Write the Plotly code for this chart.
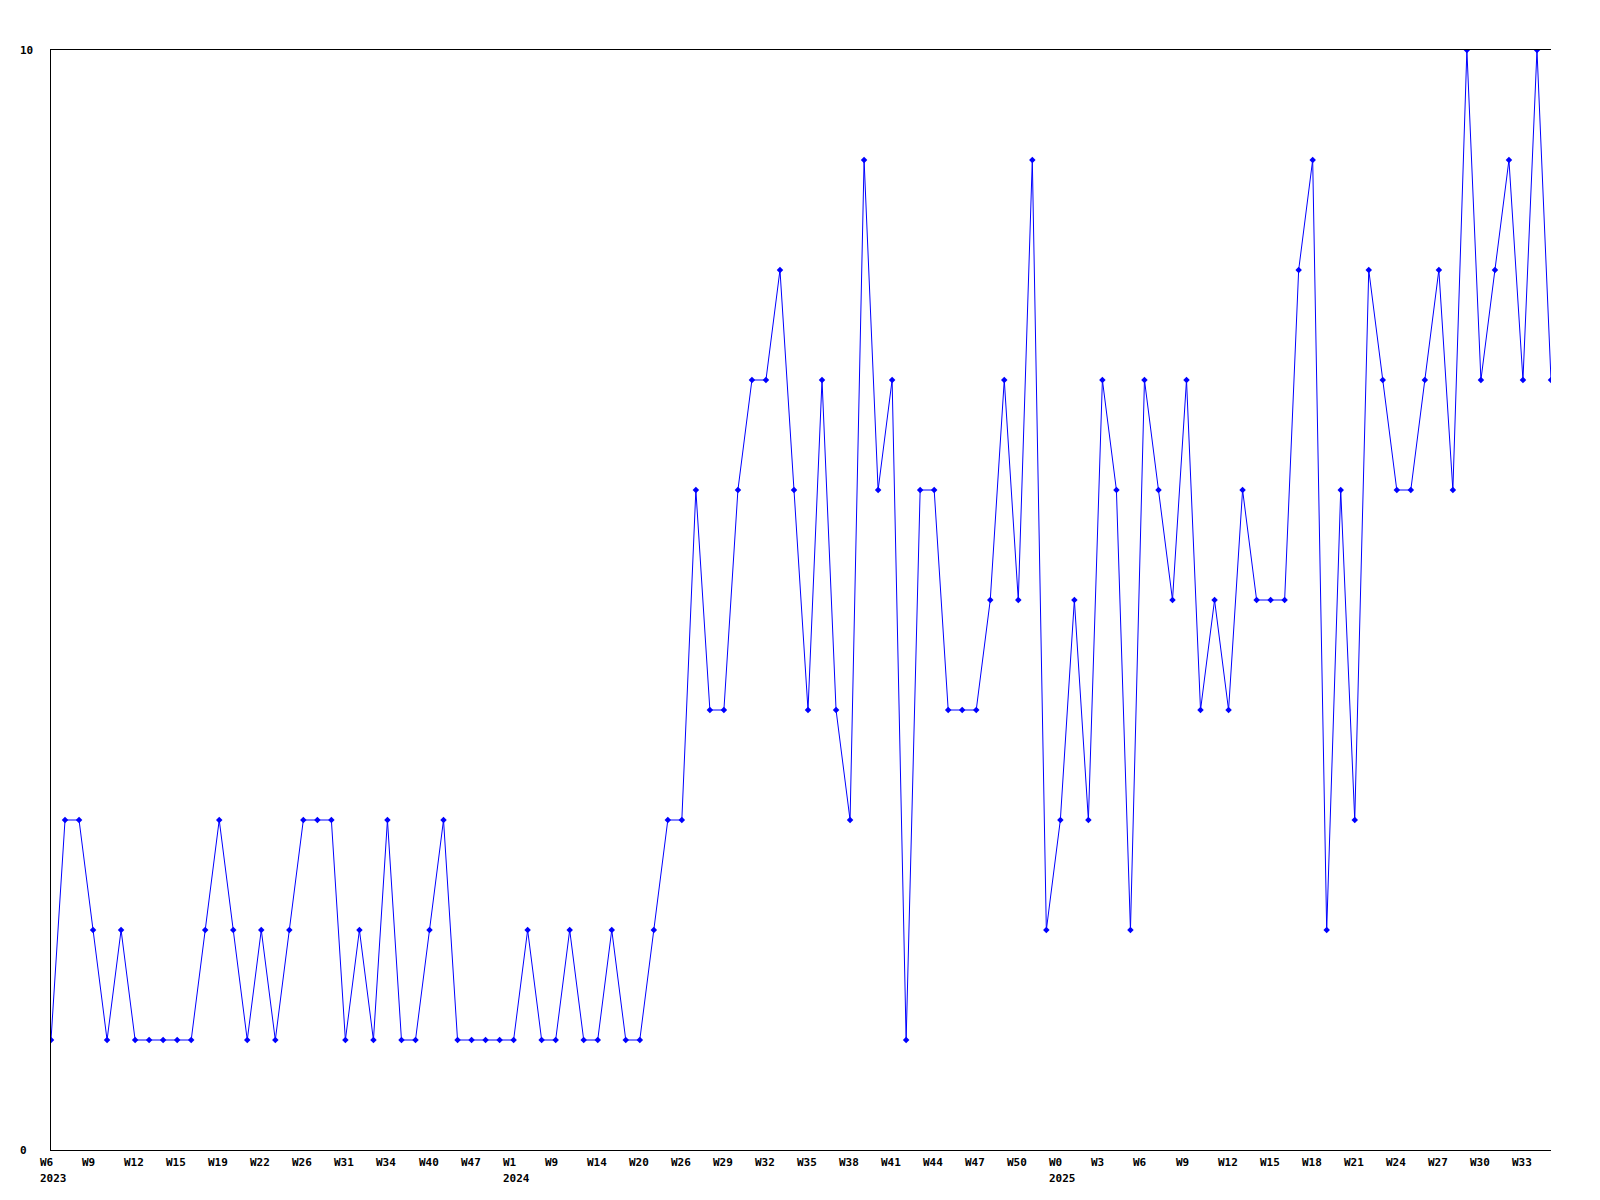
import plotly.graph_objects as go

values = [1, 3, 3, 2, 1, 2, 1, 1, 1, 1, 1, 2, 3, 2, 1, 2, 1, 2, 3, 3,
          3, 1, 2, 1, 3, 1, 1, 2, 3, 1, 1, 1, 1, 1, 2, 1, 1, 2, 1, 1,
          2, 1, 1, 2, 3, 3, 6, 4, 4, 6, 7, 7, 8, 6, 4, 7, 4, 3, 9, 6,
          7, 1, 6, 6, 4, 4, 4, 5, 7, 5, 9, 2, 3, 5, 3, 7, 6, 2, 7, 6,
          5, 7, 4, 5, 4, 6, 5, 5, 5, 8, 9, 2, 6, 3, 8, 7, 6, 6, 7, 8,
          6, 10, 7, 8, 9, 7, 10, 7]

tick_labels = ["W6", "W9", "W12", "W15", "W19", "W22", "W26", "W31", "W34", "W40",
               "W47", "W1", "W9", "W14", "W20", "W26", "W29", "W32", "W35", "W38",
               "W41", "W44", "W47", "W50", "W0", "W3", "W6", "W9", "W12", "W15",
               "W18", "W21", "W24", "W27", "W30", "W33"]
tick_step = 3
year_labels = {0: "2023", 33: "2024", 72: "2025"}
y_ticks = [0, 10]

x = list(range(len(values)))

FONT = dict(family="DejaVu Sans Mono", size=11, color="black", weight="bold")

fig = go.Figure()
fig.add_trace(go.Scatter(
    x=x, y=values, mode="lines+markers",
    line=dict(color="#0000ff", width=1),
    marker=dict(symbol="diamond", size=5, color="#0000ff"),
    cliponaxis=True, showlegend=False,
))

annotations = []
for k, lab in enumerate(tick_labels):
    idx = k * tick_step
    annotations.append(dict(x=idx, y=0, xref="x", yref="paper", text=lab,
                            showarrow=False, xanchor="left", yanchor="top",
                            xshift=-13, yshift=-4, font=FONT))
for idx, yr in year_labels.items():
    annotations.append(dict(x=idx, y=0, xref="x", yref="paper", text=yr,
                            showarrow=False, xanchor="left", yanchor="top",
                            xshift=-13, yshift=-20, font=FONT))
for v in y_ticks:
    annotations.append(dict(x=0, y=v, xref="paper", yref="y", text=str(v),
                            showarrow=False, xanchor="left", yanchor="middle",
                            xshift=-33, font=FONT))

fig.update_layout(
    width=1584, height=1184,
    margin=dict(l=43, r=41, t=42, b=42),
    paper_bgcolor="white", plot_bgcolor="white",
    annotations=annotations,
    xaxis=dict(range=[0, len(values) - 1], showgrid=False, zeroline=False,
               showticklabels=False, ticks="", showline=True, mirror=True,
               linecolor="black", linewidth=1),
    yaxis=dict(range=[0, 10], showgrid=False, zeroline=False,
               showticklabels=False, ticks="", showline=True,
               linecolor="black", linewidth=1),
)

fig.write_html("out.html")
